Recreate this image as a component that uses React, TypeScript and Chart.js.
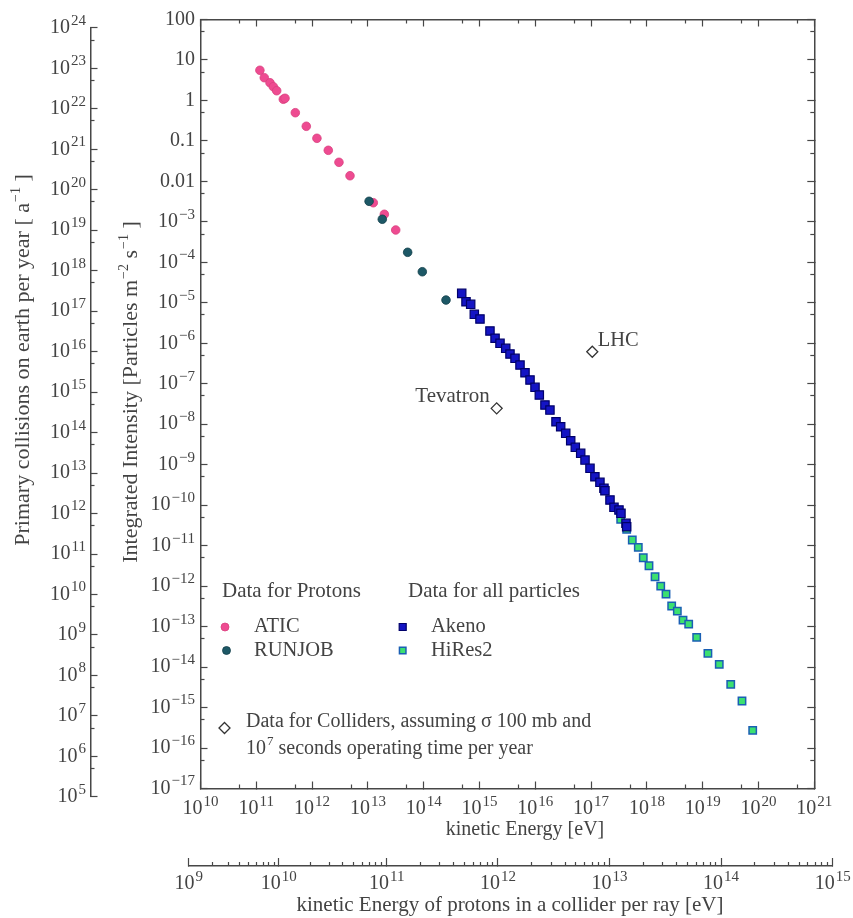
import React, { useEffect, useRef } from 'react';
import { Chart, registerables } from 'chart.js';

Chart.register(...registerables);

// ---------------- data ----------------
const aticEnergy = [1.16e11, 1.39e11, 1.76e11, 2.02e11, 2.32e11, 3.05e11, 3.27e11, 5.0e11, 7.87e11, 1.22e12, 1.95e12, 3.03e12, 4.78e12, 1.25e13, 1.97e13, 3.15e13];
const aticIntensity = [5.56, 3.65, 2.74, 2.18, 1.74, 1.07, 1.13, 0.498, 0.23, 0.116, 0.0586, 0.0296, 0.0138, 2.97e-3, 1.54e-3, 6.3e-4];

const runjobEnergy = [1.05e13, 1.81e13, 5.16e13, 9.44e13, 2.51e14];
const runjobIntensity = [3.22e-3, 1.16e-3, 1.77e-4, 5.86e-5, 1.17e-5];

const akenoEnergy = [4.8e14, 5.73e14, 6.95e14, 8.07e14, 1.02e15, 1.54e15, 1.9e15, 2.33e15, 2.95e15, 3.52e15, 4.33e15, 5.32e15, 6.54e15, 8.04e15, 9.88e15, 1.18e16, 1.49e16, 1.83e16, 2.35e16, 2.85e16, 3.51e16, 4.31e16, 5.21e16, 6.51e16, 7.78e16, 9.55e16, 1.17e17, 1.44e17, 1.7e17, 1.77e17, 2.18e17, 2.57e17, 3.16e17, 3.43e17, 4.22e17, 4.34e17];
const akenoIntensity = [1.71e-5, 1.06e-5, 9.18e-6, 5.2e-6, 3.98e-6, 2.01e-6, 1.33e-6, 9.98e-7, 7.51e-7, 5.43e-7, 4.25e-7, 2.9e-7, 1.87e-7, 1.24e-7, 8.17e-8, 5.27e-8, 2.98e-8, 2.24e-8, 1.15e-8, 8.68e-9, 5.96e-9, 3.91e-9, 2.69e-9, 1.91e-9, 1.3e-9, 8.13e-10, 5.05e-10, 3.67e-10, 2.61e-10, 2.27e-10, 1.34e-10, 8.85e-11, 7.59e-11, 6.29e-11, 3.56e-11, 2.93e-11];

const hires2Energy = [3.39e17, 4.34e17, 5.47e17, 7.01e17, 8.61e17, 1.09e18, 1.4e18, 1.77e18, 2.2e18, 2.78e18, 3.51e18, 4.44e18, 5.61e18, 7.8e18, 1.24e19, 1.98e19, 3.18e19, 5.06e19, 7.87e19];
const hires2Intensity = [4.47e-11, 2.53e-11, 1.38e-11, 9.09e-12, 5.02e-12, 3.19e-12, 1.71e-12, 1.0e-12, 6.37e-13, 3.22e-13, 2.42e-13, 1.45e-13, 1.15e-13, 5.42e-14, 2.18e-14, 1.17e-14, 3.74e-15, 1.45e-15, 2.73e-16];

const colliderNames = ['LHC', 'Tevatron'];
const colliderEnergy = [1.05e17, 2.03e15];
const colliderIntensity = [6.18e-7, 2.47e-8];

// tick values
const energyTicks = [1e10, 1e11, 1e12, 1e13, 1e14, 1e15, 1e16, 1e17, 1e18, 1e19, 1e20, 1e21];
const intensityTicks = [1e2, 1e1, 1, 1e-1, 1e-2, 1e-3, 1e-4, 1e-5, 1e-6, 1e-7, 1e-8, 1e-9, 1e-10, 1e-11, 1e-12, 1e-13, 1e-14, 1e-15, 1e-16, 1e-17];
const collisionTicks = [1e5, 1e6, 1e7, 1e8, 1e9, 1e10, 1e11, 1e12, 1e13, 1e14, 1e15, 1e16, 1e17, 1e18, 1e19, 1e20, 1e21, 1e22, 1e23, 1e24];
const beamTicks = [1e9, 1e10, 1e11, 1e12, 1e13, 1e14, 1e15];
const beamMinorFactors = [2, 3, 4, 5, 6, 7, 8, 9];

const energyMinorTicks = energyTicks.slice(0, -1).map((v) => 5 * v);
const intensityMinorTicks = intensityTicks.slice(1).map((v) => 5 * v);
const collisionMinorTicks = collisionTicks.slice(0, -1).map((v) => 5 * v);
const beamMinorTicks = beamTicks.slice(0, -1).flatMap((v) => beamMinorFactors.map((f) => f * v));

// physics conversions used by the two extra axes
const PROTON_MASS_EV = 938.272e6;
const beamToFixedTarget = (t: number) => (2 * t * (t + 2 * PROTON_MASS_EV)) / PROTON_MASS_EV;
const EARTH_AREA_TIMES_YEAR = 4 * Math.PI * 6.371e6 * 6.371e6 * 3.156e7;

// ---------------- styles ----------------
const FAMILY = "'Liberation Serif', 'DejaVu Serif', serif";
const TEXT = '#434343';
const AXIS = '#474747';
const W = 853;
const H = 918;
const AREA = { left: 200.5, right: 814.3, top: 19.5, bottom: 788.5 };
const OUTER_AXIS_X = 90.5;
const SEC_AXIS_Y = 866;
const TICK_SIZE = 20;
const EXP_SIZE = 15;
const EXP_RAISE = 7;
const LEGEND_SIZE = 20.5;

type Seg = { t: string; sup?: boolean };

function drawRich(ctx: CanvasRenderingContext2D, segs: Seg[], x: number, y: number, align: 'left' | 'center' | 'right', size: number, supSize: number, raise: number) {
  const widths = segs.map((s) => {
    ctx.font = `${s.sup ? supSize : size}px ${FAMILY}`;
    return ctx.measureText(s.t).width + (s.sup ? 1 : 0);
  });
  const total = widths.reduce((a, b) => a + b, 0);
  let cx = align === 'left' ? x : align === 'center' ? x - total / 2 : x - total;
  ctx.textAlign = 'left';
  ctx.textBaseline = 'middle';
  ctx.fillStyle = TEXT;
  segs.forEach((s, i) => {
    ctx.font = `${s.sup ? supSize : size}px ${FAMILY}`;
    ctx.fillText(s.t, cx + (s.sup ? 1 : 0), s.sup ? y - raise : y);
    cx += widths[i];
  });
}

const pow = (v: number): Seg[] => {
  const e = Math.round(Math.log10(v));
  return [{ t: '10' }, { t: (e < 0 ? '\u2212' : '') + Math.abs(e), sup: true }];
};

const intensityLabel = (v: number): Seg[] => {
  const e = Math.round(Math.log10(v));
  if (e >= 0) return [{ t: String(Math.round(v)) }];
  if (e >= -2) return [{ t: v.toFixed(-e) }];
  return pow(v);
};

function logAxis(axis: 'x' | 'y', position: string, min: number, max: number, ticks: number[], tickLength: number, border: boolean) {
  return {
    type: 'logarithmic',
    axis,
    position,
    min,
    max,
    bounds: 'data',
    display: true,
    afterBuildTicks: (s: any) => {
      s.ticks = ticks.map((v) => ({ value: v }));
    },
    afterFit: (s: any) => {
      if (s.isHorizontal()) s.height = 0;
      else s.width = 0;
    },
    ticks: { display: false },
    grid: { display: true, drawOnChartArea: false, drawTicks: true, tickLength, tickColor: AXIS, tickWidth: 1.2 },
    border: { display: border, color: AXIS, width: 1.5 },
  };
}

const boundsPlugin = {
  id: 'boundsPlugin',
  afterLayout(chart: any) {
    const ca = chart.chartArea;
    const S = chart.scales;
    const set = (s: any, l: number, r: number, t: number, b: number) => {
      s.left = l; s.right = r; s.top = t; s.bottom = b;
      s.width = r - l; s.height = b - t;
      s.configure();
      s._gridLineItems = null;
    };
    ['x', 'xm'].forEach((id) => set(S[id], ca.left, ca.right, ca.bottom, ca.bottom + 1));
    ['xt', 'xtm'].forEach((id) => set(S[id], ca.left, ca.right, ca.top - 1, ca.top));
    ['y', 'ym'].forEach((id) => set(S[id], ca.left - 1, ca.left, ca.top, ca.bottom));
    ['yr', 'yrm'].forEach((id) => set(S[id], ca.right, ca.right + 1, ca.top, ca.bottom));
    const y = S.y;
    const oTop = y.getPixelForValue(S.yo.max / EARTH_AREA_TIMES_YEAR);
    const oBottom = y.getPixelForValue(S.yo.min / EARTH_AREA_TIMES_YEAR);
    ['yo', 'yom'].forEach((id) => set(S[id], OUTER_AXIS_X - 1, OUTER_AXIS_X, oTop, oBottom));
    const x = S.x;
    const sLeft = x.getPixelForValue(S.xs.min);
    const sRight = x.getPixelForValue(S.xs.max);
    ['xs', 'xsm'].forEach((id) => set(S[id], sLeft, sRight, SEC_AXIS_Y, SEC_AXIS_Y + 1));
  },
};

function circle(ctx: CanvasRenderingContext2D, x: number, y: number, r: number, fill: string, stroke: string) {
  ctx.beginPath();
  ctx.arc(x, y, r, 0, Math.PI * 2);
  ctx.fillStyle = fill;
  ctx.fill();
  ctx.lineWidth = 0.8;
  ctx.strokeStyle = stroke;
  ctx.stroke();
}
function square(ctx: CanvasRenderingContext2D, x: number, y: number, s: number, fill: string, stroke: string, lw: number) {
  ctx.beginPath();
  ctx.rect(x - s / 2, y - s / 2, s, s);
  ctx.fillStyle = fill;
  ctx.fill();
  ctx.lineWidth = lw;
  ctx.strokeStyle = stroke;
  ctx.stroke();
}
function diamond(ctx: CanvasRenderingContext2D, x: number, y: number, r: number) {
  ctx.beginPath();
  ctx.moveTo(x, y - r);
  ctx.lineTo(x + r, y);
  ctx.lineTo(x, y + r);
  ctx.lineTo(x - r, y);
  ctx.closePath();
  ctx.fillStyle = '#ffffff';
  ctx.fill();
  ctx.lineWidth = 1.3;
  ctx.strokeStyle = '#333333';
  ctx.stroke();
}

const textPlugin = {
  id: 'textPlugin',
  afterDraw(chart: any) {
    const ctx: CanvasRenderingContext2D = chart.ctx;
    const S = chart.scales;
    ctx.save();
    // bottom energy labels
    energyTicks.forEach((v) => drawRich(ctx, pow(v), S.x.getPixelForValue(v), 809, 'center', TICK_SIZE, EXP_SIZE, EXP_RAISE));
    // intensity labels
    intensityTicks.forEach((v) => drawRich(ctx, intensityLabel(v), 195, S.y.getPixelForValue(v), 'right', TICK_SIZE, EXP_SIZE, EXP_RAISE));
    // outer collision labels
    collisionTicks.forEach((v) => drawRich(ctx, pow(v), 86, S.yo.getPixelForValue(v), 'right', TICK_SIZE, EXP_SIZE, EXP_RAISE));
    // secondary energy labels
    beamTicks.forEach((v) => drawRich(ctx, pow(v), S.xs.getPixelForValue(beamToFixedTarget(v)), 884, 'center', TICK_SIZE, EXP_SIZE, EXP_RAISE));

    // axis titles
    drawRich(ctx, [{ t: 'kinetic Energy [eV]' }], 525, 830, 'center', 20, 13, 7);
    drawRich(ctx, [{ t: 'kinetic Energy of protons in a collider per ray [eV]' }], 510, 905, 'center', 21, 13, 7);
    ctx.save();
    ctx.translate(23, 360);
    ctx.rotate(-Math.PI / 2);
    drawRich(ctx, [{ t: 'Primary collisions on earth per year [ a' }, { t: '\u22121', sup: true }, { t: ' ]' }], 0, 0, 'center', 22, 14, 7);
    ctx.restore();
    ctx.save();
    ctx.translate(131, 392);
    ctx.rotate(-Math.PI / 2);
    drawRich(ctx, [{ t: 'Integrated Intensity [Particles m' }, { t: '\u22122', sup: true }, { t: ' s' }, { t: '\u22121', sup: true }, { t: ' ]' }], 0, 0, 'center', 22, 14, 7);
    ctx.restore();

    // collider annotations
    const lhcX = S.x.getPixelForValue(colliderEnergy[0]);
    const lhcY = S.y.getPixelForValue(colliderIntensity[0]);
    drawRich(ctx, [{ t: colliderNames[0] }], lhcX + 5.5, lhcY - 11, 'left', 20.5, 13, 7);
    const tevX = S.x.getPixelForValue(colliderEnergy[1]);
    const tevY = S.y.getPixelForValue(colliderIntensity[1]);
    drawRich(ctx, [{ t: colliderNames[1] }], tevX - 7, tevY - 12, 'right', 21, 13, 7);

    // legend
    drawRich(ctx, [{ t: 'Data for Protons' }], 222, 591, 'left', 21, 13, 7);
    drawRich(ctx, [{ t: 'Data for all particles' }], 408, 591, 'left', 21, 13, 7);
    circle(ctx, 225, 627, 4, '#EE4B91', '#D9407F');
    drawRich(ctx, [{ t: 'ATIC' }], 254, 627, 'left', LEGEND_SIZE, 13, 7);
    circle(ctx, 226.5, 650.5, 4, '#1D5866', '#123F4A');
    drawRich(ctx, [{ t: 'RUNJOB' }], 254, 651, 'left', LEGEND_SIZE, 13, 7);
    square(ctx, 402.7, 627, 7, '#1414C4', '#00006A', 1.2);
    drawRich(ctx, [{ t: 'Akeno' }], 431, 627, 'left', LEGEND_SIZE, 13, 7);
    square(ctx, 402.7, 650.5, 6.5, '#3CE070', '#1A5FB4', 1.5);
    drawRich(ctx, [{ t: 'HiRes2' }], 431, 651, 'left', LEGEND_SIZE, 13, 7);
    diamond(ctx, 224.5, 728, 5.5);
    drawRich(ctx, [{ t: 'Data for Colliders, assuming \u03c3 100 mb and' }], 246, 722, 'left', 20, 13, 7);
    drawRich(ctx, [{ t: '10' }, { t: '7', sup: true }, { t: ' seconds operating time per year' }], 246, 749, 'left', 20, 13, 7);
    ctx.restore();
  },
};

const toPoints = (xs: number[], ys: number[]) => xs.map((x, i) => ({ x, y: ys[i] }));

export default function App() {
  const ref = useRef<HTMLCanvasElement>(null);
  useEffect(() => {
    if (!ref.current) return;
    const chart = new Chart(ref.current, {
      type: 'scatter',
      data: {
        datasets: [
          { label: 'Colliders', data: toPoints(colliderEnergy, colliderIntensity), pointStyle: 'rectRot', radius: 5.5, backgroundColor: '#ffffff', borderColor: '#333333', borderWidth: 1.3, xAxisID: 'x', yAxisID: 'y' },
          { label: 'RUNJOB', data: toPoints(runjobEnergy, runjobIntensity), pointStyle: 'circle', radius: 4.3, backgroundColor: '#1D5866', borderColor: '#123F4A', borderWidth: 0.8, xAxisID: 'x', yAxisID: 'y' },
          { label: 'ATIC', data: toPoints(aticEnergy, aticIntensity), pointStyle: 'circle', radius: 4.3, backgroundColor: '#EE4B91', borderColor: '#D9407F', borderWidth: 0.8, xAxisID: 'x', yAxisID: 'y' },
          { label: 'Akeno', data: toPoints(akenoEnergy, akenoIntensity), pointStyle: 'rect', radius: 5.9, backgroundColor: '#1414C4', borderColor: '#00006A', borderWidth: 1.2, xAxisID: 'x', yAxisID: 'y' },
          { label: 'HiRes2', data: toPoints(hires2Energy, hires2Intensity), pointStyle: 'rect', radius: 5.2, backgroundColor: '#3CE070', borderColor: '#1A5FB4', borderWidth: 1.5, xAxisID: 'x', yAxisID: 'y' },
        ] as any,
      },
      options: {
        responsive: false,
        animation: false,
        events: [],
        layout: { padding: { left: AREA.left, top: AREA.top, right: W - AREA.right, bottom: H - AREA.bottom } },
        plugins: { legend: { display: false }, tooltip: { enabled: false }, title: { display: false } },
        scales: {
          x: logAxis('x', 'bottom', 1e10, 1e21, energyTicks, -7, true),
          y: logAxis('y', 'left', 1e-17, 1e2, intensityTicks, -7, true),
          xm: logAxis('x', 'bottom', 1e10, 1e21, energyMinorTicks, -4, false),
          ym: logAxis('y', 'left', 1e-17, 1e2, intensityMinorTicks, -4, false),
          xt: logAxis('x', 'top', 1e10, 1e21, energyTicks, -7, true),
          xtm: logAxis('x', 'top', 1e10, 1e21, energyMinorTicks, -4, false),
          yr: logAxis('y', 'right', 1e-17, 1e2, intensityTicks, -7, true),
          yrm: logAxis('y', 'right', 1e-17, 1e2, intensityMinorTicks, -4, false),
          yo: logAxis('y', 'left', collisionTicks[0], collisionTicks[collisionTicks.length - 1], collisionTicks, -7, true),
          yom: logAxis('y', 'left', collisionTicks[0], collisionTicks[collisionTicks.length - 1], collisionMinorTicks, -4, false),
          xs: logAxis('x', 'bottom', beamToFixedTarget(beamTicks[0]), beamToFixedTarget(beamTicks[beamTicks.length - 1]), beamTicks.map(beamToFixedTarget), -8, true),
          xsm: logAxis('x', 'bottom', beamToFixedTarget(beamTicks[0]), beamToFixedTarget(beamTicks[beamTicks.length - 1]), beamMinorTicks.map(beamToFixedTarget), -4, false),
        } as any,
      },
      plugins: [boundsPlugin, textPlugin] as any,
    });
    return () => chart.destroy();
  }, []);
  return (
    <div style={{ position: 'absolute', left: 0, top: 0, width: W, height: H, background: '#ffffff' }}>
      <canvas ref={ref} width={W} height={H} style={{ display: 'block', width: W, height: H }} />
    </div>
  );
}
